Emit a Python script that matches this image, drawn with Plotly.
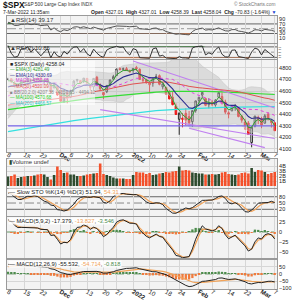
import numpy as np
import pandas as pd
import plotly.graph_objects as go

# ---------------- data ----------------
tick_idx = [0, 5, 10, 16, 19, 24, 29, 33, 38, 43, 48, 52, 58, 62, 67, 72, 77, 81]
tick_text = ["8", "15", "22", "<b>Dec</b>", "6", "13", "20", "27", "<b>2022</b>", "10",
             "18", "24", "<b>Feb</b>", "7", "14", "22", "<b>Mar</b>", "7"]

lookback_close = [4509.37, 4528.79, 4522.68, 4524.09, 4536.95, 4535.43, 4520.03, 4514.07, 4493.28, 4458.58,
                  4468.73, 4443.05, 4480.70, 4473.75, 4432.99, 4357.73, 4354.19, 4395.64, 4448.98, 4455.48,
                  4443.11, 4352.63, 4359.46, 4307.54, 4357.04, 4300.46, 4345.72, 4363.55, 4399.76, 4391.34,
                  4361.19, 4350.65, 4363.80, 4438.26, 4471.37, 4486.46, 4519.63, 4536.19, 4549.78, 4544.90,
                  4566.48, 4574.79, 4551.68, 4596.42, 4605.38, 4613.67, 4630.65, 4660.57, 4680.06, 4697.53]

open_ = [4701.48, 4707.25, 4670.26, 4659.39, 4655.24, 4689.30, 4679.42, 4701.50, 4700.72, 4708.44,
         4712.00, 4678.48, 4675.78, 4664.63, 4628.75, 4640.25, 4602.82, 4504.73, 4589.49, 4548.37,
         4631.97, 4690.86, 4691.00, 4687.64, 4710.30, 4642.99, 4636.46, 4719.13, 4652.50, 4587.90,
         4594.96, 4650.36, 4703.96, 4733.99, 4795.49, 4788.64, 4794.23, 4775.21, 4778.14, 4804.51,
         4787.99, 4693.39, 4697.66, 4655.34, 4669.14, 4728.59, 4733.56, 4637.99, 4632.24, 4588.03,
         4547.35, 4471.38, 4356.32, 4366.64, 4408.43, 4380.58, 4336.19, 4431.79, 4519.57, 4566.39,
         4535.41, 4482.79, 4505.75, 4480.02, 4547.00, 4553.24, 4506.27, 4412.61, 4429.28, 4455.75,
         4456.06, 4384.57, 4332.74, 4324.93, 4155.77, 4298.38, 4354.17, 4363.14, 4322.56, 4401.31,
         4342.12, 4327.01]
high_ = [4714.92, 4708.53, 4684.85, 4664.55, 4688.47, 4697.42, 4714.95, 4701.50, 4708.80, 4717.75,
         4743.83, 4699.39, 4702.87, 4664.63, 4672.95, 4646.02, 4652.94, 4595.46, 4608.03, 4612.60,
         4694.04, 4705.06, 4695.26, 4713.57, 4710.30, 4660.47, 4712.60, 4731.99, 4666.70, 4587.90,
         4651.14, 4697.67, 4740.74, 4791.49, 4807.02, 4804.06, 4808.93, 4786.83, 4796.64, 4818.62,
         4797.70, 4725.01, 4707.95, 4673.02, 4714.13, 4748.83, 4744.13, 4665.13, 4632.24, 4611.55,
         4602.11, 4494.52, 4417.35, 4411.01, 4453.23, 4428.74, 4432.72, 4516.89, 4550.49, 4595.31,
         4542.88, 4539.66, 4521.86, 4531.32, 4590.03, 4588.92, 4526.33, 4426.22, 4472.77, 4489.55,
         4456.06, 4394.60, 4362.12, 4341.51, 4294.73, 4385.34, 4388.84, 4378.45, 4401.48, 4416.78,
         4342.12, 4327.01]
low_ = [4694.39, 4670.87, 4630.86, 4648.31, 4650.77, 4672.86, 4679.42, 4684.41, 4672.78, 4694.22,
        4682.17, 4652.66, 4659.89, 4585.43, 4625.26, 4560.00, 4510.27, 4504.73, 4495.12, 4540.51,
        4631.97, 4674.52, 4665.98, 4670.24, 4667.60, 4606.52, 4611.22, 4651.89, 4600.22, 4531.10,
        4583.16, 4645.53, 4703.96, 4733.99, 4780.04, 4778.08, 4775.33, 4765.75, 4758.17, 4774.27,
        4699.44, 4671.26, 4662.74, 4582.24, 4638.27, 4706.71, 4650.29, 4614.75, 4568.70, 4530.20,
        4477.95, 4395.34, 4222.62, 4287.11, 4304.80, 4309.50, 4292.46, 4414.02, 4483.53, 4544.32,
        4470.39, 4451.50, 4471.47, 4465.40, 4547.00, 4484.31, 4401.41, 4364.84, 4429.28, 4429.68,
        4373.81, 4327.22, 4267.11, 4221.51, 4114.65, 4286.83, 4315.12, 4279.54, 4322.56, 4345.56,
        4284.98, 4258.39]
close_ = [4701.70, 4685.25, 4646.71, 4649.27, 4682.85, 4682.80, 4700.90, 4688.67, 4704.54, 4697.96,
          4682.94, 4690.70, 4701.46, 4594.62, 4655.27, 4567.00, 4513.04, 4577.10, 4538.43, 4591.67,
          4686.75, 4701.21, 4667.45, 4712.02, 4668.97, 4634.09, 4709.85, 4668.67, 4620.64, 4568.02,
          4649.23, 4696.56, 4725.79, 4791.19, 4786.35, 4793.06, 4778.73, 4766.18, 4796.56, 4793.54,
          4700.58, 4696.05, 4677.03, 4670.29, 4713.07, 4726.35, 4659.03, 4662.85, 4577.11, 4532.76,
          4482.73, 4397.94, 4410.13, 4356.45, 4349.93, 4326.51, 4431.85, 4515.55, 4546.54, 4589.38,
          4477.44, 4500.53, 4483.87, 4521.54, 4587.18, 4504.08, 4418.64, 4401.67, 4471.07, 4475.01,
          4380.26, 4348.87, 4304.76, 4225.50, 4288.70, 4384.65, 4373.94, 4306.26, 4386.54, 4363.49,
          4328.87, 4258.04]
volume_b = [1.9, 2.0, 2.3, 1.6, 1.8, 1.9, 2.0, 2.0, 2.1, 2.3,
            2.4, 2.3, 1.8, 1.3, 2.2, 3.9, 3.2, 2.6, 2.7, 2.3,
            2.3, 2.0, 2.0, 2.1, 2.3, 2.4, 2.5, 2.6, 4.5, 2.4,
            2.2, 2.0, 1.7, 1.5, 1.5, 1.5, 1.4, 1.4, 2.2, 2.8,
            2.7, 2.7, 2.4, 2.6, 2.2, 2.3, 2.5, 2.6, 2.8, 2.7,
            2.9, 3.0, 3.9, 3.1, 3.2, 3.1, 2.7, 2.6, 2.5, 2.5,
            2.3, 2.3, 2.4, 2.3, 2.4, 2.7, 2.8, 2.4, 2.3, 2.2,
            2.3, 2.6, 2.7, 2.5, 3.6, 2.8, 3.2, 3.1, 2.8, 2.4,
            2.6, 2.8]

ma_slow_idx = [0, 5, 10, 15, 20, 25, 30, 35, 40, 45, 50, 55, 60, 65, 70, 75, 81]
ma100_vals = [4440, 4460, 4480, 4500, 4520, 4538, 4553, 4568, 4582, 4592, 4598, 4600, 4598, 4593, 4586, 4578, 4571]
ma200_vals = [4250, 4275, 4300, 4322, 4345, 4365, 4383, 4400, 4418, 4431, 4441, 4449, 4455, 4459, 4462, 4464, 4467]

# trendlines (start idx, start price, end idx, end price)
trend_lines = [
    (0, 4300, 81, 4300, "#7b68ee"),
    (38, 4860, 81, 4455, "#c080f0"),
    (28, 4440, 81, 4190, "#c080f0"),
    (55, 4280, 78, 4112, "#c080f0"),
]

n = len(close_)
x = np.arange(n)

# -------------- indicators ---------------
L = len(lookback_close)
c_all = pd.Series(lookback_close + close_)
h_all = pd.Series(lookback_close + high_)
l_all = pd.Series(lookback_close + low_)


def tail(s):
    return s.iloc[L:].to_numpy()


def ema(s, span):
    return s.ewm(span=span, adjust=False).mean()


ema3 = tail(ema(c_all, 3))
ema10 = tail(ema(c_all, 10))
m20 = c_all.rolling(20).mean()
sd20 = c_all.rolling(20).std(ddof=0)
bbu = tail(m20 + 2 * sd20)
bbl = tail(m20 - 2 * sd20)
ma20 = tail(m20)
ma50 = tail(c_all.rolling(50).mean())


def rsi(s, p):
    d = s.diff().fillna(0)
    g = d.clip(lower=0).ewm(alpha=1 / p, adjust=False).mean()
    lo = (-d.clip(upper=0)).ewm(alpha=1 / p, adjust=False).mean()
    return 100 - 100 / (1 + g / lo.replace(0, 1e-9))


rsi14 = tail(rsi(c_all, 14))
rsi2 = tail(rsi(c_all, 2))

hh = h_all.rolling(14).max()
ll = l_all.rolling(14).min()
fk = 100 * (c_all - ll) / (hh - ll)
sk = fk.rolling(3).mean()
sdd = sk.rolling(3).mean()
stok = tail(sk)
stod = tail(sdd)

m5 = ema(c_all, 5) - ema(c_all, 9)
s5 = ema(m5, 2)
macd5, sig5, hist5 = tail(m5), tail(s5), tail(m5 - s5)
m12 = ema(c_all, 12) - ema(c_all, 26)
s12 = ema(m12, 9)
macd12, sig12, hist12 = tail(m12), tail(s12), tail(m12 - s12)

prev_close = np.array([lookback_close[-1]] + close_[:-1])
cl = np.array(close_)
down_day = cl < prev_close

# -------------- layout helpers ---------------
X0, X1 = 7 / 300, 277 / 300


def dom(top_px, bot_px):
    return [1 - bot_px / 300, 1 - top_px / 300]


panels = {
    1: dict(dom=dom(16, 43), rng=[-9.6, 103], tv=[10, 30, 50, 70, 90], tt=None, fs=5.5),
    2: dict(dom=dom(44, 59), rng=[-2, 112], tv=[10, 30, 50, 70, 90], tt=None, fs=2.4),
    3: dict(dom=dom(60, 152), rng=[4074, 4869], tv=[4100, 4200, 4300, 4400, 4500, 4600, 4700, 4800], tt=None, fs=5.5),
    4: dict(dom=dom(159, 188), rng=[-0.4, 5.4], tv=[1, 2, 3, 4], tt=["1B", "2B", "3B", "4B"], fs=5.5),
    5: dict(dom=dom(189, 216), rng=[-12, 117], tv=[20, 50, 80], tt=None, fs=5.5),
    6: dict(dom=dom(217, 258), rng=[-65, 37.5], tv=[-50, -25, 0, 25], tt=None, fs=5.5),
    7: dict(dom=dom(260, 289), rng=[-105, 97], tv=[-100, -50, 0, 50], tt=None, fs=5.5),
}

GRID = "#d6d6d6"
FONT = "Liberation Sans, Arial, sans-serif"
layout = dict(width=300, height=300, margin=dict(l=0, r=0, t=0, b=0),
              paper_bgcolor="white", plot_bgcolor="#f3f3f3", showlegend=False,
              font=dict(family=FONT, size=6, color="#222"), barmode="overlay",
              shapes=[], annotations=[])

for k, p in panels.items():
    xs = "" if k == 1 else str(k)
    layout["xaxis" + xs] = dict(
        domain=[X0, X1], anchor="y" + xs, range=[-0.3, 81.7], tickvals=tick_idx, ticktext=tick_text,
        showticklabels=(k in (3, 7)), ticks="", showgrid=True, gridcolor=GRID, gridwidth=1,
        zeroline=False, showline=True, mirror=True, linecolor="#9a9a9a", linewidth=1,
        tickfont=dict(size=6.2, color="#222"), automargin=False, fixedrange=True,
        ticklabelstandoff=-4, rangeslider=dict(visible=False))
    if k > 1:
        layout["xaxis" + xs]["matches"] = "x"
    yd = dict(domain=p["dom"], anchor="x" + xs, range=p["rng"], side="right", tickvals=p["tv"],
              showgrid=(k in (3, 4, 7)), gridcolor=GRID, zeroline=False, showline=True, mirror=True,
              linecolor="#9a9a9a", linewidth=1, ticks="", tickfont=dict(size=p["fs"], color="#222"),
              automargin=False, fixedrange=True)
    if p["tt"]:
        yd["ticktext"] = p["tt"]
    layout["yaxis" + xs] = yd

fig = go.Figure()


def ax(k):
    s = "" if k == 1 else str(k)
    return dict(xaxis="x" + s, yaxis="y" + s)


def hline(k, level, color, dash="solid", width=1):
    s = "" if k == 1 else str(k)
    layout["shapes"].append(dict(type="line", xref="x" + s + " domain", yref="y" + s, x0=0, x1=1,
                                 y0=level, y1=level, line=dict(color=color, width=width, dash=dash),
                                 layer="below"))


def band(k, vals, level, above, color):
    lvl = np.full(n, float(level))
    clipped = np.maximum(vals, level) if above else np.minimum(vals, level)
    fig.add_trace(go.Scatter(x=x, y=lvl, mode="lines", line=dict(width=0), hoverinfo="skip", **ax(k)))
    fig.add_trace(go.Scatter(x=x, y=clipped, mode="lines", line=dict(width=0), fill="tonexty",
                             fillcolor=color, hoverinfo="skip", **ax(k)))


ORANGE = "#f07a3c"
GREEN_F = "#3f7f3f"

# ---- RSI(14)
hline(1, 70, "#666")
hline(1, 30, "#666")
hline(1, 50, "#999", "dashdot")
band(1, rsi14, 70, True, GREEN_F)
band(1, rsi14, 30, False, ORANGE)
fig.add_trace(go.Scatter(x=x, y=rsi14, mode="lines", line=dict(color="#555", width=1), **ax(1)))

# ---- RSI(2)
hline(2, 90, "#666")
hline(2, 10, "#666")
hline(2, 50, "#999", "dashdot")
band(2, rsi2, 90, True, GREEN_F)
band(2, rsi2, 10, False, ORANGE)
fig.add_trace(go.Scatter(x=x, y=rsi2, mode="lines", line=dict(color="#333", width=1), **ax(2)))

# ---- Price
fig.add_trace(go.Scatter(x=x, y=bbu, mode="lines", line=dict(color="#c8c8c8", width=0.6), **ax(3)))
fig.add_trace(go.Scatter(x=x, y=bbl, mode="lines", line=dict(color="#c8c8c8", width=0.6), fill="tonexty",
                         fillcolor="rgba(190,190,190,0.45)", **ax(3)))
fig.add_trace(go.Scatter(x=ma_slow_idx, y=ma200_vals, mode="lines", line=dict(color="#33e0e0", width=1.2), **ax(3)))
fig.add_trace(go.Scatter(x=ma_slow_idx, y=ma100_vals, mode="lines", line=dict(color="#33dd33", width=1.2), **ax(3)))
for (i0, p0, i1, p1, col) in trend_lines:
    fig.add_trace(go.Scatter(x=[i0, i1], y=[p0, p1], mode="lines", line=dict(color=col, width=1.1), **ax(3)))
fig.add_trace(go.Scatter(x=x, y=ma50, mode="lines", line=dict(color="#e05050", width=1), **ax(3)))
fig.add_trace(go.Scatter(x=x, y=ma20, mode="lines", line=dict(color="#e040e0", width=1, dash="dot"), **ax(3)))

o = np.array(open_)
h = np.array(high_)
lw = np.array(low_)
for mask, col in ((down_day, "#ee1c1c"), (~down_day, "#2a2a2a")):
    fig.add_trace(go.Candlestick(
        x=x[mask], open=o[mask], high=h[mask], low=lw[mask], close=cl[mask],
        increasing=dict(line=dict(color=col, width=1), fillcolor="white"),
        decreasing=dict(line=dict(color=col, width=1), fillcolor=col),
        whiskerwidth=0, hoverinfo="skip", **ax(3)))
fig.add_trace(go.Scatter(x=x, y=ema10, mode="lines", line=dict(color="#2c2c90", width=1.1), **ax(3)))
fig.add_trace(go.Scatter(x=x, y=ema3, mode="lines", line=dict(color="#2e9e2e", width=1), **ax(3)))

# ---- Volume
vol_cols = np.where(down_day, "#f4502a", "#2e4b2e")
fig.add_trace(go.Bar(x=x, y=volume_b, marker=dict(color=vol_cols, line=dict(width=0)), width=0.78, **ax(4)))

# ---- Slow STO
hline(5, 80, "#666")
hline(5, 20, "#666")
hline(5, 50, "#888", "dashdot")
fig.add_trace(go.Scatter(x=x, y=stod, mode="lines", line=dict(color="#f2a45a", width=1.2), **ax(5)))
fig.add_trace(go.Scatter(x=x, y=stok, mode="lines", line=dict(color="#222", width=1), **ax(5)))

# ---- MACD(5,9,2)
hline(6, 0, "#6a9a6a", "dashdot")
fig.add_trace(go.Bar(x=x, y=hist5, marker=dict(color=np.where(hist5 >= 0, "#4c8c4c", ORANGE), line=dict(width=0)),
                     width=0.7, **ax(6)))
fig.add_trace(go.Scatter(x=x, y=sig5, mode="lines", line=dict(color="#f2a45a", width=1.2), **ax(6)))
fig.add_trace(go.Scatter(x=x, y=macd5, mode="lines", line=dict(color="#222", width=1), **ax(6)))

# ---- MACD(12,26,9)
hline(7, 0, "#6a9a6a", "dashdot")
fig.add_trace(go.Bar(x=x, y=hist12, marker=dict(color=np.where(hist12 >= 0, "#4c8c4c", ORANGE), line=dict(width=0)),
                     width=0.7, **ax(7)))
fig.add_trace(go.Scatter(x=x, y=sig12, mode="lines", line=dict(color="#f2a45a", width=1.2), **ax(7)))
fig.add_trace(go.Scatter(x=x, y=macd12, mode="lines", line=dict(color="#222", width=1), **ax(7)))

# ---------------- text ----------------


def txt(xpx, ypx, text, size=6, color="#222", anchor="left", bg=None):
    a = dict(xref="paper", yref="paper", x=xpx / 300, y=1 - ypx / 300, text=text, showarrow=False,
             xanchor=anchor, yanchor="middle", font=dict(size=size, color=color, family=FONT))
    if bg:
        a["bgcolor"] = bg
        a["borderpad"] = 0
    layout["annotations"].append(a)


txt(0.5, 4.5, "<b>$SPX</b>", 8.5, "#111")
txt(22, 4.5, "S&P 500 Large Cap Index INDX", 4.8, "#333")
txt(277, 4, "© StockCharts.com", 4.8, "#777", anchor="right")
txt(0.5, 11.5, "7-Mar-2022 11:35am", 5, "#222")
txt(278, 11.5, "<b>Open</b> 4327.01  <b>High</b> 4327.01  <b>Low</b> 4258.39  <b>Last</b> 4258.04  "
              "<b>Chg</b> -70.83 (-1.64%) <span style='color:#2040d0'>▼</span>", 5, "#222", anchor="right")

txt(8, 20, "▲RSI(14) 39.17", 6, "#333")
txt(8, 47.5, "▲RSI(2) 10.85", 6, "#333")

# price legend box
layout["shapes"].append(dict(type="rect", xref="paper", yref="paper", x0=7.5 / 300, x1=95 / 300,
                             y0=1 - 105 / 300, y1=1 - 60.5 / 300, fillcolor="rgba(255,255,255,0.55)",
                             line=dict(width=0), layer="above"))
leg = [
    ("■ $SPX (Daily) 4258.04", "#222", 5.2),
    ("— EMA(3) 4281.49", "#2e9e2e", 4.6),
    ("— EMA(10) 4330.69", "#2c2c90", 4.6),
    ("··· MA(20) 4350.65", "#d030d0", 4.6),
    ("— MA(50) 4520.09", "#e05050", 4.6),
    ("■ BB(20,2.0) 4207.38 - 4350.65 - 4494.12", "#888", 4.6),
    ("— MA(100) 4570.68", "#22cc22", 4.6),
    ("— MA(200) 4466.57", "#20c8c8", 4.6),
]
for i, (t, c, s) in enumerate(leg):
    txt(8, 64 + i * 5.6, t, s, c)

txt(8, 162, "<span style='color:#2e4b2e'>▮</span>Volume undef", 6, "#333", bg="rgba(255,255,255,0.85)")
txt(8, 192, "— Slow STO %K(14) %D(3) 51.94, <span style='color:#f2a45a'>54.31</span>", 6, "#222",
    bg="rgba(255,255,255,0.85)")
txt(8, 220.5, "— MACD(5,9,2) -17.379, <span style='color:#f2a45a'>-13.827</span>, "
              "<span style='color:#4c8c4c'>-3.546</span>", 5.8, "#222", bg="rgba(255,255,255,0.85)")
txt(8, 264, "— MACD(12,26,9) -55.532, <span style='color:#f2a45a'>-54.714</span>, "
            "<span style='color:#4c8c4c'>-0.818</span>", 5.8, "#222", bg="rgba(255,255,255,0.85)")

fig.update_layout(**layout)
fig.update_traces(selector=dict(type="scatter"), hoverinfo="skip")
fig.write_html("out.html", config=dict(displayModeBar=False))
